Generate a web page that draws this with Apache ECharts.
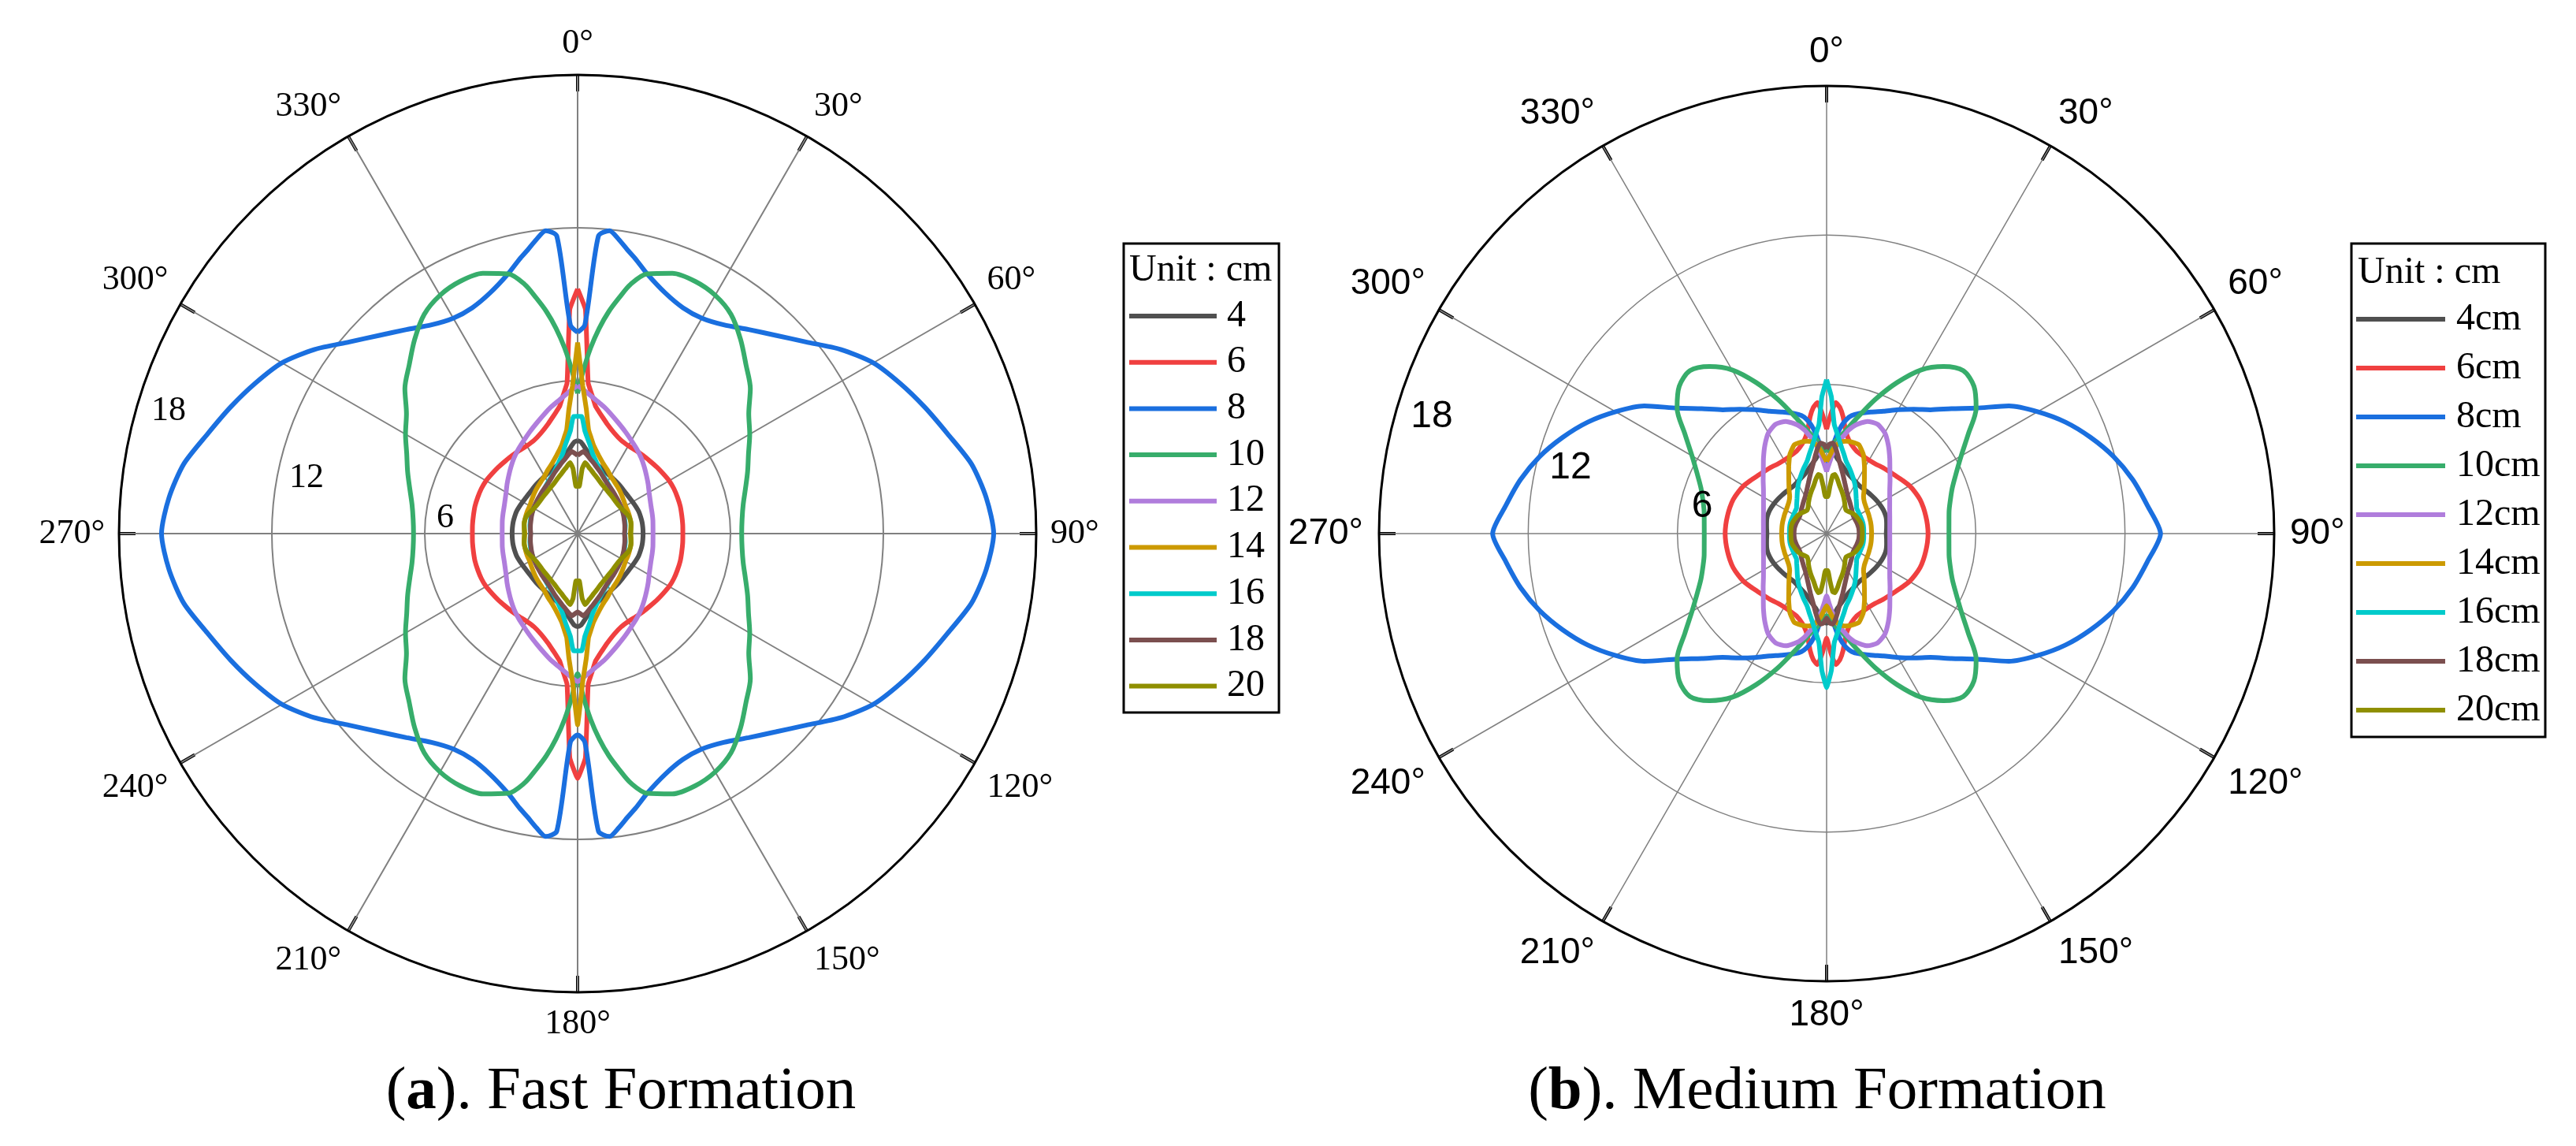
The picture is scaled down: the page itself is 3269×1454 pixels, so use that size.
<!DOCTYPE html>
<html><head><meta charset="utf-8">
<script src="https://cdn.jsdelivr.net/npm/echarts@6/dist/echarts.min.js"></script>
<style>html,body{margin:0;padding:0;background:#fff}#c{width:3269px;height:1454px}</style>
</head><body><div id="c"></div>
<script>
// angle (degrees, 0 at top, clockwise)
const angles = [0,2,4,6,8,10,12,15,20,25,30,35,40,45,50,55,60,65,70,75,80,85,90,
95,100,105,110,115,120,125,130,135,140,145,150,155,160,165,168,170,172,174,176,178,180,
182,184,186,188,190,192,195,200,205,210,215,220,225,230,235,240,245,250,255,260,265,270,
275,280,285,290,295,300,305,310,315,320,325,330,335,340,345,348,350,352,354,356,358,360];

const namesA = ['4','6','8','10','12','14','16','18','20'];
const namesB = ['4cm','6cm','8cm','10cm','12cm','14cm','16cm','18cm','20cm'];
const colors = ['#505050','#f04040','#1a6fdf','#37ad6b','#b07ddc','#cc9a00','#00cbcb','#7b4f4f','#8f8f00'];
const ringLabels = ['6','12','18'];

// (a) Fast Formation
const a4 = [3.65,3.6,3.45,3.3,3.18,3.07,2.97,2.84,2.73,2.65,2.59,2.55,2.52,2.49,2.47,2.47,2.49,2.52,2.55,2.56,2.57,2.57,2.57,
2.57,2.57,2.56,2.55,2.52,2.49,2.47,2.47,2.49,2.52,2.55,2.59,2.65,2.73,2.84,2.97,3.07,3.18,3.3,3.45,3.6,3.65,
3.6,3.45,3.3,3.18,3.07,2.97,2.84,2.73,2.65,2.59,2.55,2.52,2.49,2.47,2.47,2.49,2.52,2.55,2.56,2.57,2.57,2.57,
2.57,2.57,2.56,2.55,2.52,2.49,2.47,2.47,2.49,2.52,2.55,2.59,2.65,2.73,2.84,2.97,3.07,3.18,3.3,3.45,3.6,3.65];
const a6 = [9.6,8.8,5.93,5.45,5.05,4.85,4.68,4.46,4.2,4.04,3.98,3.98,4.0,4.02,4.06,4.1,4.15,4.17,4.17,4.17,4.15,4.14,4.13,
4.14,4.15,4.17,4.17,4.17,4.15,4.1,4.06,4.02,4.0,3.98,3.98,4.04,4.2,4.46,4.68,4.85,5.05,5.45,5.93,8.8,9.6,
8.8,5.93,5.45,5.05,4.85,4.68,4.46,4.2,4.04,3.98,3.98,4.0,4.02,4.06,4.1,4.15,4.17,4.17,4.17,4.15,4.14,4.13,
4.14,4.15,4.17,4.17,4.17,4.15,4.1,4.06,4.02,4.0,3.98,3.98,4.04,4.2,4.46,4.68,4.85,5.05,5.45,5.93,8.8,9.6];
const a8 = [7.9,8.2,11.7,11.95,11.65,11.3,11.0,10.55,10.05,9.78,9.76,10.0,10.45,11.0,11.7,12.6,13.4,13.96,14.5,15.05,15.7,16.1,16.33,
16.1,15.7,15.05,14.5,13.96,13.4,12.6,11.7,11.0,10.45,10.0,9.76,9.78,10.05,10.55,11.0,11.3,11.65,11.95,11.7,8.2,7.9,
8.2,11.7,11.95,11.65,11.3,11.0,10.55,10.05,9.78,9.76,10.0,10.45,11.0,11.7,12.6,13.4,13.96,14.5,15.05,15.7,16.1,16.33,
16.1,15.7,15.05,14.5,13.96,13.4,12.6,11.7,11.0,10.45,10.0,9.76,9.78,10.05,10.55,11.0,11.3,11.65,11.95,11.7,8.2,7.9];
const a10 = [5.5,6.4,7.3,8.1,8.8,9.4,10.0,10.55,10.87,10.92,10.8,10.5,9.95,9.35,8.85,8.2,7.8,7.4,7.1,6.82,6.6,6.48,6.44,
6.48,6.6,6.82,7.1,7.4,7.8,8.2,8.85,9.35,9.95,10.5,10.8,10.92,10.87,10.55,10.0,9.4,8.8,8.1,7.3,6.4,5.5,
6.4,7.3,8.1,8.8,9.4,10.0,10.55,10.87,10.92,10.8,10.5,9.95,9.35,8.85,8.2,7.8,7.4,7.1,6.82,6.6,6.48,6.44,
6.48,6.6,6.82,7.1,7.4,7.8,8.2,8.85,9.35,9.95,10.5,10.8,10.92,10.87,10.55,10.0,9.4,8.8,8.1,7.3,6.4,5.5];
const a12 = [5.81,5.68,5.53,5.4,5.28,5.17,5.07,4.9,4.64,4.42,4.22,4.05,3.88,3.7,3.53,3.38,3.24,3.14,3.07,3.03,3.0,2.97,2.96,
2.97,3.0,3.03,3.07,3.14,3.24,3.38,3.53,3.7,3.88,4.05,4.22,4.42,4.64,4.9,5.07,5.17,5.28,5.4,5.53,5.68,5.81,
5.68,5.53,5.4,5.28,5.17,5.07,4.9,4.64,4.42,4.22,4.05,3.88,3.7,3.53,3.38,3.24,3.14,3.07,3.03,3.0,2.97,2.96,
2.97,3.0,3.03,3.07,3.14,3.24,3.38,3.53,3.7,3.88,4.05,4.22,4.42,4.64,4.9,5.07,5.17,5.28,5.4,5.53,5.68,5.81];
const a14 = [7.5,5.8,4.9,4.1,3.8,3.55,3.38,3.18,2.93,2.76,2.6,2.5,2.42,2.35,2.28,2.22,2.17,2.16,2.15,2.14,2.13,2.1,2.07,
2.1,2.13,2.14,2.15,2.16,2.17,2.22,2.28,2.35,2.42,2.5,2.6,2.76,2.93,3.18,3.38,3.55,3.8,4.1,4.9,5.8,7.5,
5.8,4.9,4.1,3.8,3.55,3.38,3.18,2.93,2.76,2.6,2.5,2.42,2.35,2.28,2.22,2.17,2.16,2.15,2.14,2.13,2.1,2.07,
2.1,2.13,2.14,2.15,2.16,2.17,2.22,2.28,2.35,2.42,2.5,2.6,2.76,2.93,3.18,3.38,3.55,3.8,4.1,4.9,5.8,7.5];
const a16 = [4.6,4.6,4.05,3.75,3.5,3.25,3.08,2.88,2.62,2.45,2.33,2.22,2.13,2.07,2.03,2.0,1.99,1.97,1.95,1.92,1.9,1.87,1.85,
1.87,1.9,1.92,1.95,1.97,1.99,2.0,2.03,2.07,2.13,2.22,2.33,2.45,2.62,2.88,3.08,3.25,3.5,3.75,4.05,4.6,4.6,
4.6,4.05,3.75,3.5,3.25,3.08,2.88,2.62,2.45,2.33,2.22,2.13,2.07,2.03,2.0,1.99,1.97,1.95,1.92,1.9,1.87,1.85,
1.87,1.9,1.92,1.95,1.97,1.99,2.0,2.03,2.07,2.13,2.22,2.33,2.45,2.62,2.88,3.08,3.25,3.5,3.75,4.05,4.6,4.6];
const a18 = [3.07,3.15,3.23,3.15,3.05,2.95,2.87,2.75,2.58,2.42,2.3,2.22,2.16,2.1,2.06,2.02,1.99,1.96,1.93,1.9,1.88,1.86,1.84,
1.86,1.88,1.9,1.93,1.96,1.99,2.02,2.06,2.1,2.16,2.22,2.3,2.42,2.58,2.75,2.87,2.95,3.05,3.15,3.23,3.15,3.07,
3.15,3.23,3.15,3.05,2.95,2.87,2.75,2.58,2.42,2.3,2.22,2.16,2.1,2.06,2.02,1.99,1.96,1.93,1.9,1.88,1.86,1.84,
1.86,1.88,1.9,1.93,1.96,1.99,2.02,2.06,2.1,2.16,2.22,2.3,2.42,2.58,2.75,2.87,2.95,3.05,3.15,3.23,3.15,3.07];
const a20 = [1.86,1.86,2.55,2.8,2.72,2.62,2.55,2.44,2.3,2.18,2.1,2.04,2.0,1.97,1.95,1.95,1.98,2.04,2.11,2.14,2.13,2.1,2.09,
2.1,2.13,2.14,2.11,2.04,1.98,1.95,1.95,1.97,2.0,2.04,2.1,2.18,2.3,2.44,2.55,2.62,2.72,2.8,2.55,1.86,1.86,
1.86,2.55,2.8,2.72,2.62,2.55,2.44,2.3,2.18,2.1,2.04,2.0,1.97,1.95,1.95,1.98,2.04,2.11,2.14,2.13,2.1,2.09,
2.1,2.13,2.14,2.11,2.04,1.98,1.95,1.95,1.97,2.0,2.04,2.1,2.18,2.3,2.44,2.55,2.62,2.72,2.8,2.55,1.86,1.86];

// (b) Medium Formation
const b4 = [3.6,3.5,3.35,3.2,3.05,2.95,2.85,2.72,2.55,2.45,2.38,2.33,2.33,2.35,2.37,2.4,2.43,2.46,2.48,2.48,2.45,2.42,2.4,
2.42,2.45,2.48,2.48,2.46,2.43,2.4,2.37,2.35,2.33,2.33,2.38,2.45,2.55,2.72,2.85,2.95,3.05,3.2,3.35,3.5,3.6,
3.5,3.35,3.2,3.05,2.95,2.85,2.72,2.55,2.45,2.38,2.33,2.33,2.35,2.37,2.4,2.43,2.46,2.48,2.48,2.45,2.42,2.4,
2.42,2.45,2.48,2.48,2.46,2.43,2.4,2.37,2.35,2.33,2.33,2.38,2.45,2.55,2.72,2.85,2.95,3.05,3.2,3.35,3.5,3.6];
const b6 = [4.2,4.8,5.28,5.1,4.75,4.3,4.0,3.75,3.53,3.45,3.41,3.42,3.48,3.54,3.62,3.73,3.85,3.93,4.0,4.03,4.05,4.07,4.08,
4.07,4.05,4.03,4.0,3.93,3.85,3.73,3.62,3.54,3.48,3.42,3.41,3.45,3.53,3.75,4.0,4.3,4.75,5.1,5.28,4.8,4.2,
4.8,5.28,5.1,4.75,4.3,4.0,3.75,3.53,3.45,3.41,3.42,3.48,3.54,3.62,3.73,3.85,3.93,4.0,4.03,4.05,4.07,4.08,
4.07,4.05,4.03,4.0,3.93,3.85,3.73,3.62,3.54,3.48,3.42,3.41,3.45,3.53,3.75,4.0,4.3,4.75,5.1,5.28,4.8,4.2];
const b8 = [2.6,3.0,3.5,4.0,4.4,4.67,4.85,5.0,5.2,5.43,5.75,6.1,6.5,7.1,7.85,8.95,9.8,10.6,11.3,11.95,12.5,12.95,13.43,
12.95,12.5,11.95,11.3,10.6,9.8,8.95,7.85,7.1,6.5,6.1,5.75,5.43,5.2,5.0,4.85,4.67,4.4,4.0,3.5,3.0,2.6,
3.0,3.5,4.0,4.4,4.67,4.85,5.0,5.2,5.43,5.75,6.1,6.5,7.1,7.85,8.95,9.8,10.6,11.3,11.95,12.5,12.95,13.43,
12.95,12.5,11.95,11.3,10.6,9.8,8.95,7.85,7.1,6.5,6.1,5.75,5.43,5.2,5.0,4.85,4.67,4.4,4.0,3.5,3.0,2.6];
const b10 = [3.3,3.4,3.6,3.78,3.95,4.15,4.4,4.85,5.75,6.7,7.6,8.2,8.55,8.38,7.85,6.95,6.25,5.75,5.38,5.15,5.0,4.94,4.92,
4.94,5.0,5.15,5.38,5.75,6.25,6.95,7.85,8.38,8.55,8.2,7.6,6.7,5.75,4.85,4.4,4.15,3.95,3.78,3.6,3.4,3.3,
3.4,3.6,3.78,3.95,4.15,4.4,4.85,5.75,6.7,7.6,8.2,8.55,8.38,7.85,6.95,6.25,5.75,5.38,5.15,5.0,4.94,4.92,
4.94,5.0,5.15,5.38,5.75,6.25,6.95,7.85,8.38,8.55,8.2,7.6,6.7,5.75,4.85,4.4,4.15,3.95,3.78,3.6,3.4,3.3];
const b12 = [2.5,2.8,3.15,3.45,3.8,4.0,4.25,4.52,4.8,4.85,4.68,4.33,3.95,3.6,3.33,3.1,2.93,2.8,2.7,2.63,2.58,2.55,2.54,
2.55,2.58,2.63,2.7,2.8,2.93,3.1,3.33,3.6,3.95,4.33,4.68,4.85,4.8,4.52,4.25,4.0,3.8,3.45,3.15,2.8,2.5,
2.8,3.15,3.45,3.8,4.0,4.25,4.52,4.8,4.85,4.68,4.33,3.95,3.6,3.33,3.1,2.93,2.8,2.7,2.63,2.58,2.55,2.54,
2.55,2.58,2.63,2.7,2.8,2.93,3.1,3.33,3.6,3.95,4.33,4.68,4.85,4.8,4.52,4.25,4.0,3.8,3.45,3.15,2.8,2.5];
const b14 = [2.9,3.1,3.35,3.55,3.68,3.76,3.8,3.82,3.8,3.5,3.05,2.65,2.35,2.1,1.98,1.92,1.88,1.86,1.84,1.83,1.82,1.81,1.81,
1.81,1.82,1.83,1.84,1.86,1.88,1.92,1.98,2.1,2.35,2.65,3.05,3.5,3.8,3.82,3.8,3.76,3.68,3.55,3.35,3.1,2.9,
3.1,3.35,3.55,3.68,3.76,3.8,3.82,3.8,3.5,3.05,2.65,2.35,2.1,1.98,1.92,1.88,1.86,1.84,1.83,1.82,1.81,1.81,
1.81,1.82,1.83,1.84,1.86,1.88,1.92,1.98,2.1,2.35,2.65,3.05,3.5,3.8,3.82,3.8,3.76,3.68,3.55,3.35,3.1,2.9];
const b16 = [6.19,5.5,4.4,4.05,3.75,3.5,3.3,3.02,2.75,2.5,2.28,2.05,1.85,1.7,1.58,1.55,1.53,1.52,1.52,1.52,1.51,1.5,1.49,
1.5,1.51,1.52,1.52,1.52,1.53,1.55,1.58,1.7,1.85,2.05,2.28,2.5,2.75,3.02,3.3,3.5,3.75,4.05,4.4,5.5,6.19,
5.5,4.4,4.05,3.75,3.5,3.3,3.02,2.75,2.5,2.28,2.05,1.85,1.7,1.58,1.55,1.53,1.52,1.52,1.52,1.51,1.5,1.49,
1.5,1.51,1.52,1.52,1.52,1.53,1.55,1.58,1.7,1.85,2.05,2.28,2.5,2.75,3.02,3.3,3.5,3.75,4.05,4.4,5.5,6.19];
const b18 = [3.4,3.6,3.65,3.45,3.2,2.95,2.75,2.5,2.15,1.9,1.72,1.6,1.5,1.42,1.35,1.3,1.28,1.28,1.29,1.3,1.31,1.31,1.31,
1.31,1.31,1.3,1.29,1.28,1.28,1.3,1.35,1.42,1.5,1.6,1.72,1.9,2.15,2.5,2.75,2.95,3.2,3.45,3.65,3.6,3.4,
3.6,3.65,3.45,3.2,2.95,2.75,2.5,2.15,1.9,1.72,1.6,1.5,1.42,1.35,1.3,1.28,1.28,1.29,1.3,1.31,1.31,1.31,
1.31,1.31,1.3,1.29,1.28,1.28,1.3,1.35,1.42,1.5,1.6,1.72,1.9,2.15,2.5,2.75,2.95,3.2,3.45,3.65,3.6,3.4];
const b20 = [1.49,1.49,1.9,2.35,2.4,2.3,2.18,2.0,1.8,1.62,1.45,1.3,1.22,1.25,1.3,1.35,1.38,1.4,1.43,1.45,1.45,1.44,1.44,
1.44,1.45,1.45,1.43,1.4,1.38,1.35,1.3,1.25,1.22,1.3,1.45,1.62,1.8,2.0,2.18,2.3,2.4,2.35,1.9,1.49,1.49,
1.49,1.9,2.35,2.4,2.3,2.18,2.0,1.8,1.62,1.45,1.3,1.22,1.25,1.3,1.35,1.38,1.4,1.43,1.45,1.45,1.44,1.44,
1.44,1.45,1.45,1.43,1.4,1.38,1.35,1.3,1.25,1.22,1.3,1.45,1.62,1.8,2.0,2.18,2.3,2.4,2.35,1.9,1.49,1.49];

const dataA = [a4,a6,a8,a10,a12,a14,a16,a18,a20];
const dataB = [b4,b6,b8,b10,b12,b14,b16,b18,b20];

const SERIF = 'Liberation Serif';
const SANS = 'Liberation Sans';
// per-series curve smoothing (style only)
const smoothA = [0.2, 0.1, 0.25, 0.3, 0.2, 0.1, 0.15, 0.15, 0.1];
const smoothB = [0.2, 0.15, 0.25, 0.3, 0.2, 0.15, 0.1, 0.15, 0.1];

function mkSeries(names, data, pi, sm) {
  return names.map((n, i) => ({
    name: n, type: 'line', coordinateSystem: 'polar', polarIndex: pi,
    data: angles.map((a, k) => [data[i][k], a]),
    symbol: 'none', smooth: sm[i], clip: false,
    lineStyle: { width: 6, color: colors[i] }, itemStyle: { color: colors[i] },
    emphasis: { disabled: true }, z: 3 + i
  }));
}
function mkAngle(pi, font, size, gw, margin) {
  return {
    polarIndex: pi, type: 'value', min: 0, max: 360, interval: 30, startAngle: 90, clockwise: true,
    axisLine: { lineStyle: { color: '#000', width: 3 } },
    axisTick: { inside: true, length: 21, lineStyle: { color: '#000', width: 4 } },
    axisLabel: { formatter: v => v === 360 ? '' : v + '°', fontFamily: font, fontSize: size, color: '#000', margin: margin },
    splitLine: { lineStyle: { color: '#808080', width: gw } }
  };
}
function mkRadius(pi, gw) {
  return {
    polarIndex: pi, type: 'value', min: 0, max: 18, interval: 6,
    axisLine: { show: false }, axisTick: { show: false }, axisLabel: { show: false },
    splitLine: { lineStyle: { color: '#808080', width: gw } }
  };
}
function txt(x, y, t, font, size, align) {
  return { type: 'text', z: 50, style: { x, y, text: t, fontFamily: font, fontSize: size, fill: '#000', align: align || 'center', verticalAlign: 'middle' } };
}
function caption(x, y, letter, rest) {
  return { type: 'text', z: 50, style: { x, y, text: '{p|(}{b|' + letter + '}{p|). ' + rest + '}', align: 'center', verticalAlign: 'middle',
    rich: { p: { fontFamily: SERIF, fontSize: 77, fill: '#000' }, b: { fontFamily: SERIF, fontSize: 77, fontWeight: 'bold', fill: '#000' } } } };
}

const unitTitle = 'Unit : cm';

const chart = echarts.init(document.getElementById('c'), null, { renderer: 'canvas' });
chart.setOption({
  animation: false,
  backgroundColor: '#fff',
  polar: [{ center: [733, 677], radius: 582 }, { center: [2318, 677], radius: 568 }],
  angleAxis: [mkAngle(0, SERIF, 44, 2, 18), mkAngle(1, SANS, 46, 1.5, 20)],
  radiusAxis: [mkRadius(0, 2), mkRadius(1, 1.5)],
  legend: [
    { data: namesA, orient: 'vertical', left: 1433, top: 372, padding: 0, icon: 'rect', itemWidth: 111, itemHeight: 6, itemGap: 0.7,
      selectedMode: false, textStyle: { fontFamily: SERIF, fontSize: 48, color: '#000', lineHeight: 58, padding: [0, 0, 0, 8] } },
    { data: namesB, orient: 'vertical', left: 2990, top: 374, padding: 0, icon: 'rect', itemWidth: 113, itemHeight: 6, itemGap: 0,
      selectedMode: false, textStyle: { fontFamily: SERIF, fontSize: 48, color: '#000', lineHeight: 62, padding: [0, 0, 0, 9] } }
  ],
  graphic: [
    { type: 'rect', z: 40, shape: { x: 1426, y: 309, width: 197, height: 595 }, style: { fill: 'none', stroke: '#000', lineWidth: 3 } },
    { type: 'rect', z: 40, shape: { x: 2984, y: 309, width: 246, height: 626 }, style: { fill: 'none', stroke: '#000', lineWidth: 3 } },
    txt(1433, 343, unitTitle, SERIF, 48, 'left'),
    txt(2992, 346, unitTitle, SERIF, 48, 'left'),
    txt(565, 657, ringLabels[0], SERIF, 44), txt(389, 606, ringLabels[1], SERIF, 44), txt(214, 521, ringLabels[2], SERIF, 44),
    txt(2160, 643, ringLabels[0], SANS, 48), txt(1993, 594, ringLabels[1], SANS, 48), txt(1817, 529, ringLabels[2], SANS, 48),
    caption(788, 1386, 'a', 'Fast Formation'),
    caption(2306, 1386, 'b', 'Medium Formation')
  ],
  series: mkSeries(namesA, dataA, 0, smoothA).concat(mkSeries(namesB, dataB, 1, smoothB))
});
</script>
</body></html>
